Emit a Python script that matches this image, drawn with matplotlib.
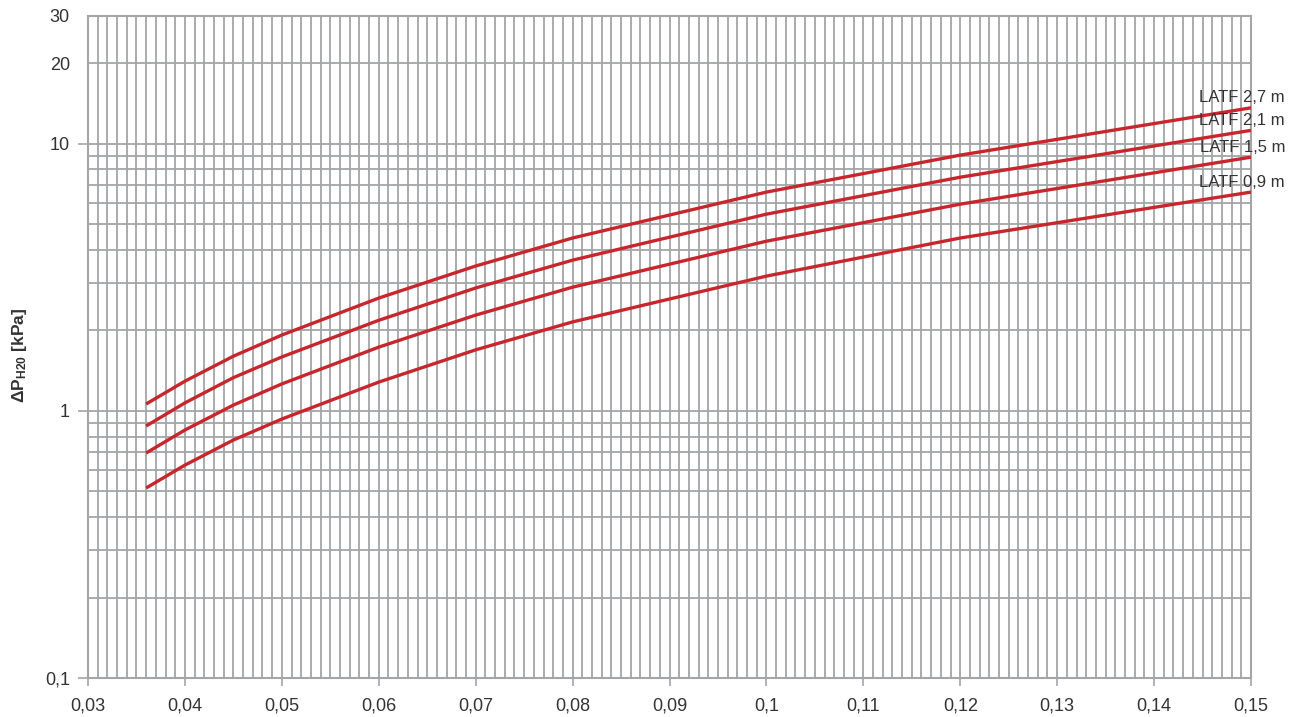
import matplotlib
matplotlib.use("Agg")
import matplotlib.pyplot as plt
from matplotlib.ticker import FixedLocator, MultipleLocator, FuncFormatter, LogLocator

# Volume flow [m3/s] at the sampled points
flow = [0.036, 0.04, 0.045, 0.05, 0.06, 0.07, 0.08, 0.10, 0.12, 0.15]

# Pressure drop [kPa] per unit length
dp_27 = [1.06, 1.29, 1.60, 1.92, 2.64, 3.48, 4.43, 6.58, 9.05, 13.6]
dp_21 = [0.877, 1.07, 1.33, 1.59, 2.18, 2.88, 3.66, 5.44, 7.48, 11.2]
dp_15 = [0.695, 0.847, 1.05, 1.26, 1.73, 2.28, 2.90, 4.31, 5.93, 8.89]
dp_09 = [0.514, 0.626, 0.777, 0.931, 1.28, 1.69, 2.15, 3.19, 4.43, 6.58]

series = [
    ("LATF 2,7 m", dp_27),
    ("LATF 2,1 m", dp_21),
    ("LATF 1,5 m", dp_15),
    ("LATF 0,9 m", dp_09),
]

x_ticks = [0.03, 0.04, 0.05, 0.06, 0.07, 0.08, 0.09, 0.10, 0.11, 0.12, 0.13, 0.14, 0.15]
x_tick_labels = ["0,03", "0,04", "0,05", "0,06", "0,07", "0,08", "0,09", "0,1",
                 "0,11", "0,12", "0,13", "0,14", "0,15"]
y_major = [0.1, 1, 10]
y_major_labels = ["0,1", "1", "10"]
y_extra_labels = {20: "20", 30: "30"}

plt.rcParams["font.family"] = ["Liberation Sans", "DejaVu Sans"]
plt.rcParams["mathtext.fontset"] = "custom"
plt.rcParams["mathtext.bf"] = "Liberation Sans:bold"
plt.rcParams["mathtext.rm"] = "Liberation Sans"

GRID = "#a3a5a7"
RED = "#c8262d"
TXT = "#333333"
FS = 13

fig = plt.figure(figsize=(12.89, 7.17), dpi=100)
ax = fig.add_axes([88 / 1289, 39 / 717, (1251 - 88) / 1289, (678 - 16) / 717])

ax.set_yscale("log")
ax.set_xlim(0.03, 0.15)
ax.set_ylim(0.1, 30)

# x axis: labelled every 0.01, grid every 0.001
ax.xaxis.set_major_locator(FixedLocator(x_ticks))
ax.set_xticklabels(x_tick_labels)
ax.xaxis.set_minor_locator(MultipleLocator(0.001))

# y axis: decades with tick marks, 20 and 30 labelled without marks
ax.yaxis.set_major_locator(FixedLocator(y_major))
ax.set_yticklabels(y_major_labels)
ax.yaxis.set_minor_locator(LogLocator(base=10, subs=[2, 3, 4, 5, 6, 7, 8, 9], numticks=20))
ax.yaxis.set_minor_formatter(FuncFormatter(
    lambda v, pos: y_extra_labels.get(int(round(v)), "") if v >= 19 else ""))

ax.tick_params(axis="x", which="major", length=6, width=1.2, color=GRID,
               labelsize=FS, labelcolor=TXT, pad=8)
ax.tick_params(axis="y", which="major", length=7, width=1.2, color=GRID,
               labelsize=FS, labelcolor=TXT, pad=6)
ax.tick_params(axis="y", which="minor", length=0, labelsize=FS,
               labelcolor=TXT, pad=13)
ax.tick_params(axis="x", which="minor", length=0)

ax.grid(True, which="both", color=GRID, linewidth=1.3)
ax.set_axisbelow(True)
for s in ax.spines.values():
    s.set_color(GRID)
    s.set_linewidth(1.5)

for label, vals in series:
    ax.plot(flow, vals, color=RED, linewidth=2.4, solid_capstyle="butt", zorder=3)
    ax.annotate(label, xy=(flow[-1], vals[-1]), xytext=(34, 10),
                textcoords="offset pixels", ha="right", va="center",
                fontsize=12, color=TXT, annotation_clip=False)

fig.text(20 / 1289, 1 - 355 / 717, r"$\mathbf{\Delta P_{H20}}$ [kPa]",
         rotation=90, ha="center", va="center", fontsize=12.5,
         fontweight="bold", color=TXT)

fig.savefig("out.png", dpi=100)
